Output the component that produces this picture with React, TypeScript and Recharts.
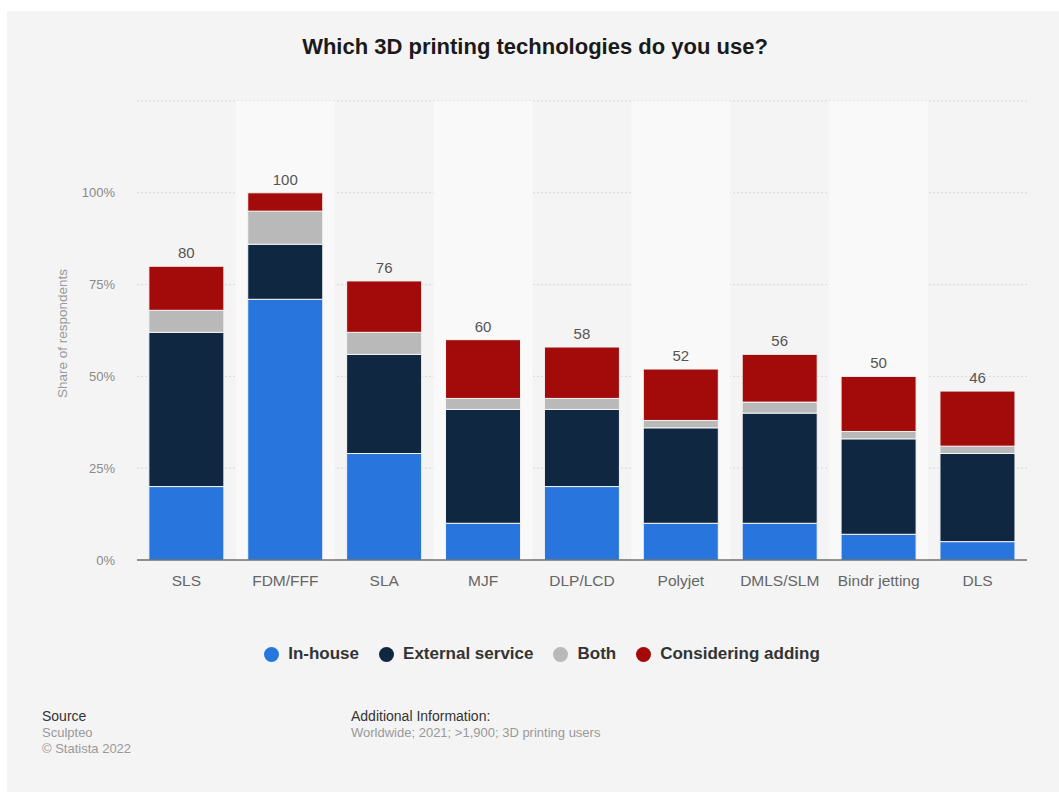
import React from 'react';
import {
  BarChart,
  Bar,
  XAxis,
  YAxis,
  CartesianGrid,
  LabelList,
  Legend,
  ReferenceArea,
} from 'recharts';

const categories = ['SLS', 'FDM/FFF', 'SLA', 'MJF', 'DLP/LCD', 'Polyjet', 'DMLS/SLM', 'Bindr jetting', 'DLS'];
const inHouse = [20, 71, 29, 10, 20, 10, 10, 7, 5];
const externalService = [42, 15, 27, 31, 21, 26, 30, 26, 24];
const both = [6, 9, 6, 3, 3, 2, 3, 2, 2];
const consideringAdding = [12, 5, 14, 16, 14, 14, 13, 15, 15];
const yTicks = [0, 25, 50, 75, 100, 125];

const series = [
  { key: 'inHouse', name: 'In-house', color: '#2876dd', values: inHouse },
  { key: 'external', name: 'External service', color: '#0f2740', values: externalService },
  { key: 'both', name: 'Both', color: '#b9b9b9', values: both },
  { key: 'considering', name: 'Considering adding', color: '#a30b0b', values: consideringAdding },
];

const data = categories.map((name, i) => {
  const row: Record<string, number | string> = { name };
  let total = 0;
  series.forEach((s) => {
    row[s.key] = s.values[i];
    total += s.values[i];
  });
  row.total = total;
  return row;
});

const FONT = '"Liberation Sans", Arial, Helvetica, sans-serif';

const LegendContent = () => (
  <div
    style={{
      height: 24,
      display: 'flex',
      justifyContent: 'center',
      alignItems: 'center',
      fontFamily: FONT,
      fontSize: 17,
      fontWeight: 'bold',
      color: '#333',
    }}
  >
    {series.map((s) => (
      <div key={s.key} style={{ display: 'flex', alignItems: 'center', margin: '0 10px' }}>
        <span
          style={{
            display: 'inline-block',
            width: 15,
            height: 15,
            borderRadius: 8,
            background: s.color,
            marginRight: 9,
          }}
        />
        <span>{s.name}</span>
      </div>
    ))}
  </div>
);

const YLabel = (props: any) => {
  const vb = props.viewBox || {};
  const x = (vb.x || 0) + 5;
  const y = (vb.y || 0) + (vb.height || 0) / 2 + 3;
  return (
    <text
      x={x}
      y={y}
      transform={`rotate(-90, ${x}, ${y})`}
      textAnchor="middle"
      dominantBaseline="central"
      fill="#999"
      fontSize={13.5}
      fontFamily={FONT}
    >
      Share of respondents
    </text>
  );
};

export default function App() {
  return (
    <div style={{ position: 'absolute', left: 0, top: 0, width: 1059, height: 792, background: '#fff', fontFamily: FONT }}>
      <div style={{ position: 'absolute', left: 7, top: 11, right: 0, bottom: 0, background: '#f4f4f4' }} />
      <div
        style={{
          position: 'absolute',
          left: 0,
          top: 34,
          width: 1070,
          textAlign: 'center',
          fontSize: 22,
          fontWeight: 'bold',
          color: '#1a1a1a',
        }}
      >
        Which 3D printing technologies do you use?
      </div>
      <div style={{ position: 'absolute', left: 0, top: 0 }}>
        <BarChart
          width={1059}
          height={700}
          data={data}
          margin={{ top: 101, right: 32, bottom: 34, left: 57 }}
          barCategoryGap="12%"
        >
          {categories
            .filter((_, i) => i % 2 === 1)
            .map((c) => (
              <ReferenceArea
                key={c}
                x1={c}
                x2={c}
                y1={0}
                y2={125}
                fill="#f9f9f9"
                fillOpacity={1}
                stroke="none"
                ifOverflow="visible"
              />
            ))}
          <CartesianGrid vertical={false} stroke="#d8d8d8" strokeDasharray="2 2" />
          <XAxis
            dataKey="name"
            height={82}
            tickLine={false}
            axisLine={{ stroke: '#333', strokeWidth: 1 }}
            tick={{ fill: '#666', fontSize: 15.5, fontFamily: FONT }}
            tickMargin={9}
            interval={0}
          />
          <YAxis
            width={80}
            domain={[0, 125]}
            ticks={yTicks}
            axisLine={false}
            tickLine={false}
            tickMargin={16}
            tick={{ fill: '#8a8a8a', fontSize: 13, fontFamily: FONT }}
            tickFormatter={(v: number) => (v === 125 ? '' : `${v}%`)}
            label={<YLabel />}
          />
          <Legend verticalAlign="bottom" content={<LegendContent />} />
          {series.map((s, idx) => (
            <Bar
              key={s.key}
              dataKey={s.key}
              name={s.name}
              stackId="a"
              fill={s.color}
              stroke="#f4f4f4"
              strokeWidth={1}
              isAnimationActive={false}
            >
              {idx === series.length - 1 && (
                <LabelList dataKey="total" position="top" offset={8} fill="#555" fontSize={15} fontFamily={FONT} />
              )}
            </Bar>
          ))}
        </BarChart>
      </div>
      <div style={{ position: 'absolute', left: 42, top: 708, fontSize: 13, lineHeight: '16.5px' }}>
        <div style={{ color: '#333', fontSize: 14 }}>Source</div>
        <div style={{ color: '#999' }}>Sculpteo</div>
        <div style={{ color: '#999' }}>© Statista 2022</div>
      </div>
      <div style={{ position: 'absolute', left: 351, top: 708, fontSize: 13, lineHeight: '16.5px' }}>
        <div style={{ color: '#333', fontSize: 14 }}>Additional Information:</div>
        <div style={{ color: '#999' }}>Worldwide; 2021; &gt;1,900; 3D printing users</div>
      </div>
    </div>
  );
}
